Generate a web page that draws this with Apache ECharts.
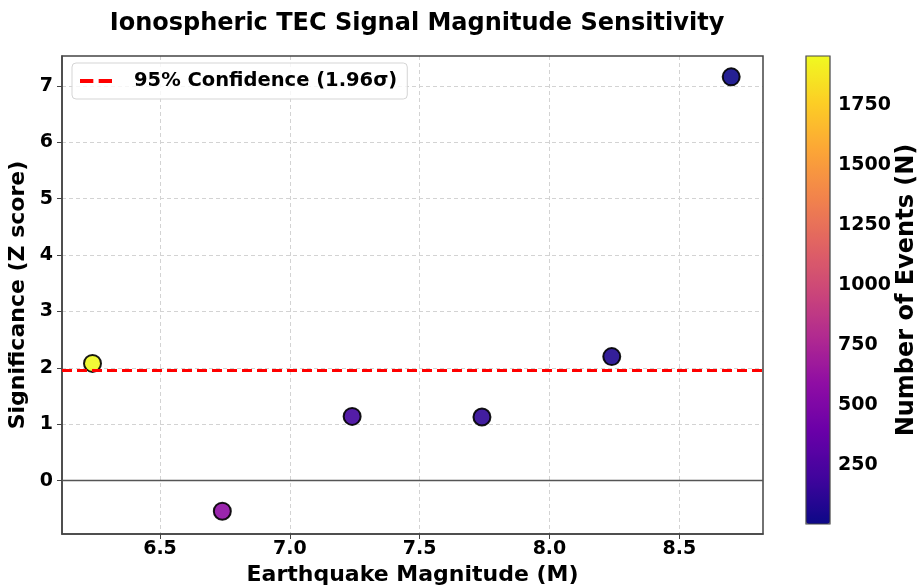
<!DOCTYPE html>
<html>
<head>
<meta charset="utf-8">
<script src="https://cdn.jsdelivr.net/npm/echarts@6/dist/echarts.min.js"></script>
<style>
html, body { margin: 0; padding: 0; background: #fff; }
#chart { width: 919px; height: 587px; }
</style>
</head>
<body>
<div id="chart"></div>
<script>
// data
const magnitudes = [6.24, 6.74, 7.24, 7.74, 8.24, 8.7];
const zScores = [2.08, -0.54, 1.14, 1.13, 2.2, 7.16];
const eventCounts = [1953, 590, 200, 125, 70, 5];
const xTicks = [6.5, 7.0, 7.5, 8.0, 8.5];
const yTicks = [0, 1, 2, 3, 4, 5, 6, 7];
const cbTicks = [250, 500, 750, 1000, 1250, 1500, 1750];
const threshold = 1.96;
const thresholdName = '95% Confidence (1.96σ)';

const plasma = ['#0d0887', '#41049d', '#6a00a8', '#8f0da4', '#b12a90', '#cc4778',
  '#e16462', '#f2844b', '#fca636', '#fcce25', '#f0f921'];

const nMin = Math.min(...eventCounts);
const nMax = Math.max(...eventCounts);
const points = magnitudes.map((m, i) => [m, zScores[i], eventCounts[i]]);

const font = 'DejaVu Sans';
const tickFont = { fontFamily: font, fontWeight: 'bold', fontSize: 19, color: '#000' };
const nameFont = { fontFamily: font, fontWeight: 'bold', fontSize: 22, color: '#000' };
const chart = echarts.init(document.getElementById('chart'));

const option = {
  animation: false,
  backgroundColor: '#fff',
  textStyle: { fontFamily: font },
  title: {
    text: 'Ionospheric TEC Signal Magnitude Sensitivity',
    left: 412, top: 7, textAlign: 'center',
    textStyle: { fontFamily: font, fontWeight: 'bold', fontSize: 24, color: '#000' }
  },
  legend: {
    data: [thresholdName],
    left: 72, top: 63,
    padding: [8, 10, 8, 8],
    backgroundColor: 'rgba(255,255,255,0.8)',
    borderColor: '#d5d5d5', borderWidth: 1, borderRadius: 4,
    itemWidth: 34, itemHeight: 4,
    icon: 'path://M0,0h10v3h-10z M14,0h10v3h-10z',
    itemStyle: { color: '#ff0000' },
    textStyle: { fontFamily: font, fontWeight: 'bold', fontSize: 19.5, color: '#000', padding: [0, 0, 0, 16] }
  },
  grid: [
    { left: 62, right: 156, top: 56, bottom: 53, outerBoundsMode: 'none', containLabel: false,
      show: true, borderColor: '#444', borderWidth: 1.5, z: 5 },
    { left: 806, width: 24, top: 56, height: 468, outerBoundsMode: 'none', containLabel: false,
      show: true, borderColor: '#444', borderWidth: 1.2, backgroundColor: 'transparent', z: 10 }
  ],
  visualMap: {
    type: 'continuous',
    seriesIndex: 0,
    dimension: 2,
    min: nMin, max: nMax,
    left: 806, top: 56,
    padding: 0,
    itemWidth: 24, itemHeight: 468,
    text: null,
    showLabel: false,
    calculable: false,
    hoverLink: false,
    inRange: { color: plasma }
  },
  xAxis: [
    {
      type: 'value',
      min: 6.1225, max: 8.8225,
      name: 'Earthquake Magnitude (M)',
      nameLocation: 'middle', nameGap: 27,
      nameTextStyle: nameFont,
      axisLine: { show: true, onZero: false, lineStyle: { color: '#444', width: 1.5 } },
      axisTick: { show: true, length: 5, customValues: xTicks, lineStyle: { color: '#444' } },
      axisLabel: Object.assign({ customValues: xTicks, margin: 6, formatter: v => v.toFixed(1) }, tickFont),
      splitLine: { show: true, lineStyle: { color: '#d3d3d3', type: [4, 3], width: 1 } }
    },
    { type: 'value', gridIndex: 1, show: false, min: 0, max: 1 }
  ],
  yAxis: [
    {
      type: 'value',
      min: -0.945, max: 7.53,
      name: 'Significance (Z score)',
      nameLocation: 'middle', nameGap: 30, nameRotate: 90,
      nameTextStyle: nameFont,
      axisLine: { show: true, onZero: false, lineStyle: { color: '#444', width: 1.5 } },
      axisTick: { show: true, length: 5, customValues: yTicks, lineStyle: { color: '#444' } },
      axisLabel: Object.assign({ customValues: yTicks, margin: 9 }, tickFont),
      splitLine: { show: true, lineStyle: { color: '#d3d3d3', type: [4, 3], width: 1 } }
    },
    {
      type: 'value', gridIndex: 1, position: 'right',
      min: nMin, max: nMax,
      name: 'Number of Events (N)',
      nameLocation: 'middle', nameGap: 65, nameRotate: 90,
      nameTextStyle: Object.assign({}, nameFont, { fontSize: 24 }),
      axisLine: { show: false },
      axisTick: { show: true, length: 5, customValues: cbTicks, lineStyle: { color: '#444' } },
      axisLabel: Object.assign({ customValues: cbTicks, margin: 8, formatter: v => String(v) }, tickFont),
      splitLine: { show: false }
    }
  ],
  series: [
    {
      type: 'scatter',
      data: points,
      symbolSize: 17,
      itemStyle: { opacity: 0.9, borderColor: '#000', borderWidth: 2 },
      z: 4
    },
    {
      name: thresholdName,
      type: 'line',
      data: [],
      itemStyle: { color: '#ff0000' },
      lineStyle: { color: '#ff0000', type: [10, 5], width: 3 },
      markLine: {
        silent: true,
        symbol: 'none',
        label: { show: false },
        data: [
          { yAxis: threshold, lineStyle: { color: '#ff0000', type: [10, 5], width: 3 } },
          { yAxis: 0, lineStyle: { color: '#555', type: 'solid', width: 1.3 } }
        ]
      },
      z: 3
    }
  ]
};

chart.setOption(option);
</script>
</body>
</html>
